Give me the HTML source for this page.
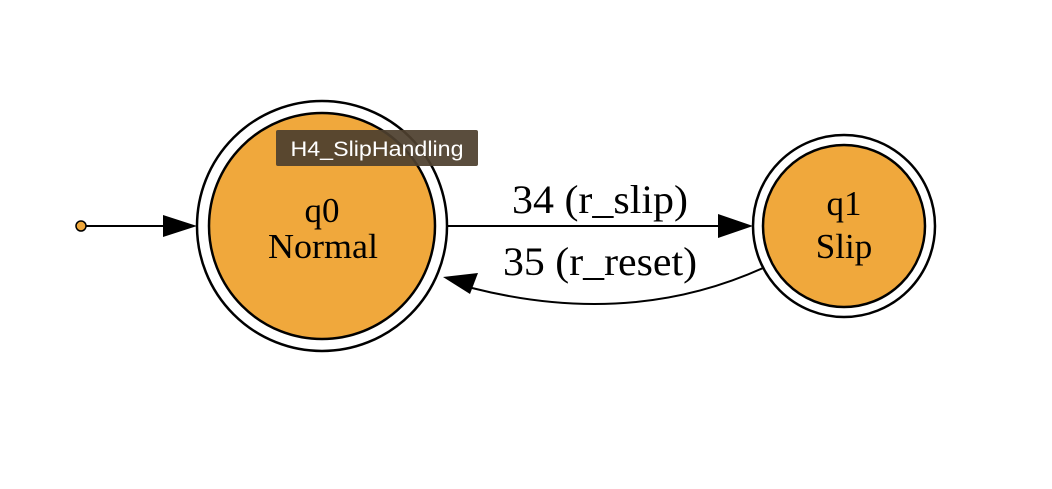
<!DOCTYPE html>
<html><head><meta charset="utf-8"><style>
body{margin:0;background:#fff;width:1052px;height:484px;overflow:hidden}
svg text{font-family:"Liberation Serif",serif;fill:#000}
</style></head><body>
<svg width="1052" height="484">
<g>
<circle cx="81" cy="226" r="5" fill="#f0a83c" stroke="#000" stroke-width="1.5"/>
<line x1="86" y1="226" x2="165" y2="226" stroke="#000" stroke-width="2"/>
<polygon points="163,215 197,226 163,237" fill="#000"/>
</g>
<g>
<circle cx="322" cy="226" r="125" fill="#fff" stroke="#000" stroke-width="2.5"/>
<circle cx="322" cy="226" r="113" fill="#f0a83c" stroke="#000" stroke-width="2.5"/>
<text x="322" y="222" font-size="35" text-anchor="middle">q0</text>
<text x="323" y="258" font-size="35" text-anchor="middle" textLength="110" lengthAdjust="spacingAndGlyphs">Normal</text>
</g>
<g>
<circle cx="844" cy="226" r="91" fill="#fff" stroke="#000" stroke-width="2.5"/>
<circle cx="844" cy="226" r="81" fill="#f0a83c" stroke="#000" stroke-width="2.5"/>
<text x="844" y="215" font-size="35" text-anchor="middle">q1</text>
<text x="844" y="258" font-size="35" text-anchor="middle">Slip</text>
</g>
<g>
<line x1="448" y1="226" x2="720" y2="226" stroke="#000" stroke-width="2"/>
<polygon points="718,214 753,226 718,238" fill="#000"/>
<text x="600" y="213" font-size="40" text-anchor="middle" textLength="176" lengthAdjust="spacingAndGlyphs">34 (r_slip)</text>
</g>
<g>
<path d="M763,268 Q630,328 472,288" fill="none" stroke="#000" stroke-width="2"/>
<polygon points="443,277 478,273 470,294" fill="#000"/>
<text x="600" y="275" font-size="40" text-anchor="middle" textLength="194" lengthAdjust="spacingAndGlyphs">35 (r_reset)</text>
</g>
<g>
<rect x="276" y="130" width="202" height="36" rx="2" fill="#4e3f2e" opacity="0.93"/>
<text x="377" y="156" font-size="21" text-anchor="middle" textLength="173" lengthAdjust="spacingAndGlyphs" style="font-family:'Liberation Sans',sans-serif;fill:#fff">H4_SlipHandling</text>
</g>
</svg>
</body></html>
